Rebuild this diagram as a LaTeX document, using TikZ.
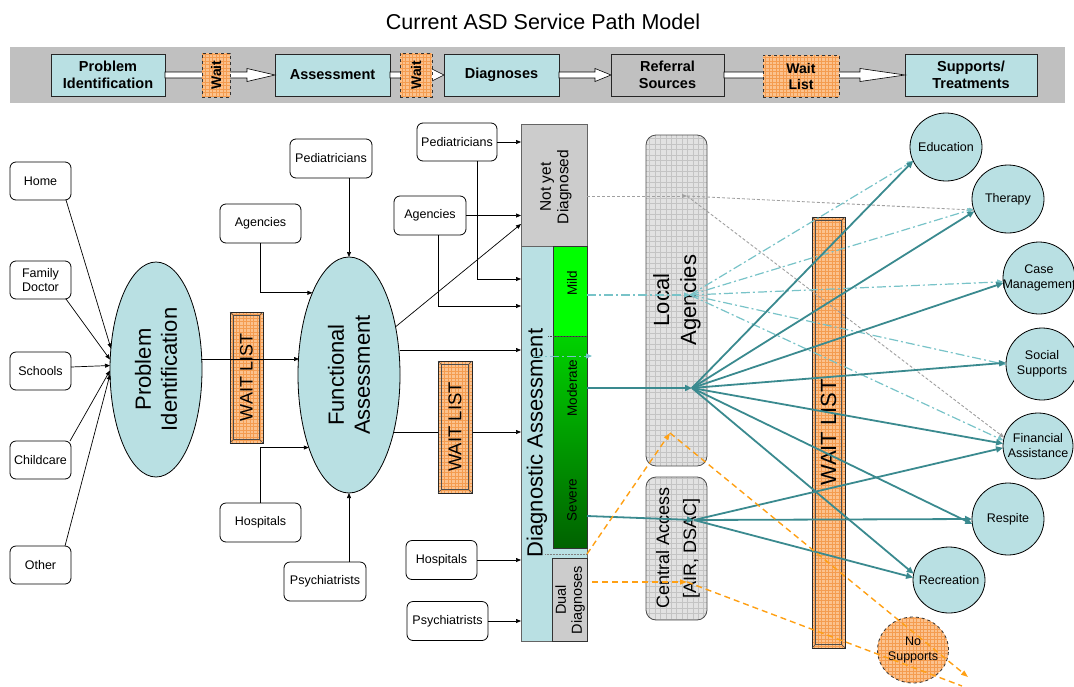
\documentclass[tikz,border=0pt]{standalone}
\usepackage{fontspec}
\setmainfont{Liberation Sans}
\usetikzlibrary{arrows.meta,calc,shapes.geometric}

\definecolor{lblue}{RGB}{185,224,227}
\definecolor{bangray}{RGB}{192,192,192}
\definecolor{boxgray}{RGB}{204,204,204}
\definecolor{colborder}{RGB}{100,100,100}
\definecolor{teal1}{RGB}{58,138,143}
\definecolor{teal2}{RGB}{120,195,200}
\definecolor{dgray}{RGB}{160,160,160}
\definecolor{orcol}{RGB}{255,160,20}
\definecolor{orfill}{RGB}{251,194,142}
\definecolor{orgrid}{RGB}{244,156,80}
\definecolor{lagray}{RGB}{226,226,226}
\definecolor{lagrid}{RGB}{196,196,196}
\definecolor{mildgreen}{RGB}{0,255,0}
\definecolor{modgreen}{RGB}{0,210,0}
\definecolor{sevgreen}{RGB}{0,98,0}

\newcommand{\fsz}[2]{\fontsize{#1}{#2}\selectfont}
% inner frame and corner bevels of a wait-list bar
\newcommand{\bevelframe}[1]{%
  \draw[bevel] ($(#1.north west)+(3.5,3.5)$) rectangle ($(#1.south east)+(-3.5,-3.5)$);
  \draw[bevel] (#1.north west) -- ++(3.5,3.5) (#1.north east) -- ++(-3.5,3.5)
               (#1.south west) -- ++(3.5,-3.5) (#1.south east) -- ++(-3.5,-3.5);}
% white block arrow between two banner boxes; #3 = head length
\newcommand{\bandarrow}[3]{%
  \draw[bandarr] ($(#1.east)+(0,-3)$) -- ($(#2.west)+(-#3,-3)$) -- ($(#2.west)+(-#3,-6.5)$)
    -- (#2.west) -- ($(#2.west)+(-#3,6.5)$) -- ($(#2.west)+(-#3,3)$) -- ($(#1.east)+(0,3)$) -- cycle;}

\tikzset{
  every node/.style={inner sep=0pt, outer sep=0pt},
  banbox/.style={draw=black!85, line width=0.8pt, fill=lblue, align=center,
    font=\bfseries\fsz{14.5}{17}, minimum height=42},
  bandarr/.style={fill=white, draw=black, line width=0.6pt},
  orgridfill/.style={fill=orfill, path picture={
    \draw[orgrid, solid, line width=0.3pt, step=3.5pt]
      (path picture bounding box.south west) grid (path picture bounding box.north east);}},
  lagridfill/.style={fill=lagray, path picture={
    \draw[lagrid, solid, line width=0.4pt, step=5.4pt]
      (path picture bounding box.south west) grid (path picture bounding box.north east);}},
  waitbox/.style={orgridfill, draw=black!80, dashed, line width=0.6pt},
  waitbar/.style={orgridfill, draw=black!85, line width=0.7pt},
  bevel/.style={draw=black!70, line width=0.5pt},
  srcbox/.style={draw=black, line width=0.8pt, rounded corners=6pt, fill=white, align=center,
    font=\fsz{12.5}{14.5}, minimum height=39},
  bigoval/.style={ellipse, draw=black, line width=0.8pt, fill=lblue},
  support/.style={ellipse, draw=black, line width=0.8pt, fill=lblue, minimum width=72,
    minimum height=68},
  suptext/.style={align=center, font=\fsz{12.5}{15}},
  vtext/.style={rotate=90, align=center},
  arr/.style={-{Triangle[length=5pt,width=4pt]}, line width=0.7pt},
  tealarr/.style={teal1, line width=1.8pt, -{Triangle[length=7pt,width=6pt]}},
  mildarr/.style={teal2, line width=1.2pt, dash pattern=on 9pt off 3pt on 2pt off 3pt,
    -{Triangle[length=6pt,width=5pt]}},
  grayarr/.style={dgray, line width=0.9pt, dash pattern=on 3pt off 2pt,
    -{Triangle[length=5pt,width=4pt]}},
  orarr/.style={orcol, line width=1.4pt, dash pattern=on 6pt off 4pt,
    -{Triangle[length=7pt,width=5pt]}},
  orpath/.style={orcol, line width=1.4pt, dash pattern=on 6pt off 4pt},
}

\begin{document}
\begin{tikzpicture}[x=1pt,y=-1pt]
\useasboundingbox (0,0) rectangle (1074,686);

% ---------- title and process banner ----------
\node[font=\fsz{21.5}{24}] (title) at (543,22) {Current ASD Service Path Model};
\node[fill=bangray, minimum width=1055, minimum height=56, anchor=north west] (banner) at (10,47) {};

\node[banbox, minimum width=114] (bpi) at (108,75) {Problem\\Identification};
\node[banbox, minimum width=115] (bas) at (332.5,75) {Assessment};
\node[banbox, minimum width=115] (bdi) at (501.5,75) {Diagnoses};
\node[banbox, fill=bangray, minimum width=113] (bre) at (667.5,75) {Referral\\Sources};
\node[banbox, minimum width=132] (bsu) at (971,75) {Supports/\\Treatments};

\bandarrow{bpi}{bas}{28}
\bandarrow{bas}{bdi}{13}
\bandarrow{bdi}{bre}{16}
\bandarrow{bre}{bsu}{45}

\node[waitbox, minimum width=28, minimum height=44] (bw1) at (216,75) {};
\node[vtext, font=\bfseries\fsz{14}{15}] (bw1t) at (bw1) {Wait};
\node[waitbox, minimum width=32, minimum height=44] (bw2) at (416,75) {};
\node[vtext, font=\bfseries\fsz{14}{15}] (bw2t) at (bw2) {Wait};
\node[waitbox, minimum width=76, minimum height=42, align=center,
      font=\bfseries\fsz{14}{16}] (bwl) at (801,76) {Wait\\List};

% ---------- problem identification sources ----------
\node[srcbox, minimum width=61, minimum height=38] (home) at (40.5,181) {Home};
\node[srcbox, minimum width=61, minimum height=38] (fd) at (40.5,280) {Family\\Doctor};
\node[srcbox, minimum width=61, minimum height=38] (schools) at (40.5,371) {Schools};
\node[srcbox, minimum width=61, minimum height=38] (childcare) at (40.5,460) {Childcare};
\node[srcbox, minimum width=61, minimum height=38] (other) at (40.5,565) {Other};

\node[bigoval, minimum width=92, minimum height=215] (pi) at (156,369.5) {};
\node[vtext, font=\fsz{22}{26}] (pit) at (pi) {Problem\\Identification};

\draw[arr] ($(home.south east)+(-5,0)$) -- ($(pi.west)+(1,-21)$);
\draw[arr] ($(fd.south east)+(-5,0)$) -- ($(pi.west)+(0,-10)$);
\draw[arr] ($(schools.east)+(0,-4)$) -- ($(pi.west)+(0,-4)$);
\draw[arr] ($(childcare.north east)+(-1,0)$) -- ($(pi.west)+(0,1)$);
\draw[arr] ($(other.north east)+(-6,0)$) -- ($(pi.west)+(0,5)$);

% ---------- functional assessment ----------
\node[srcbox, minimum width=82] (peds1) at (331,158.5) {Pediatricians};
\node[srcbox, minimum width=81] (ag1) at (260.5,223.5) {Agencies};
\node[srcbox, minimum width=81] (hosp1) at (260.5,522.5) {Hospitals};
\node[srcbox, minimum width=82] (psych1) at (325,581.5) {Psychiatrists};

\node[bigoval, minimum width=102, minimum height=236] (fa) at (349,375) {};
\node[vtext, font=\fsz{22}{26}] (fat) at (fa) {Functional\\Assessment};

\node[waitbar, minimum width=33, minimum height=131] (wl1) at (246.5,377.5) {};
\bevelframe{wl1}
\node[vtext, font=\fsz{18}{20}] (wl1t) at (wl1) {WAIT LIST};

\draw[arr] ($(pi.east)+(-1,-10.5)$) -- ($(fa.west)+(1,-16)$);
\draw[arr] (peds1.south -| fa.north) -- (fa.north);
\draw[arr] (ag1.south) |- (fa.114);
\draw[arr] (hosp1.north) |- (fa.241);
\draw[arr] (psych1.north -| fa.south) -- (fa.south);

% ---------- diagnostic assessment column ----------
\node[draw=colborder, line width=1pt, fill=boxgray, minimum width=66, minimum height=122,
      anchor=north west] (nyd) at (521,124) {};
\node[draw=colborder, line width=1pt, fill=lblue, minimum width=66, minimum height=395,
      anchor=north west] (da) at (521,246) {};
\node[draw=black!80, line width=0.8pt, fill=mildgreen, minimum width=34, minimum height=90,
      anchor=north west] (mild) at (553,246) {};
\node[draw=black!80, line width=0.8pt, top color=modgreen, bottom color=sevgreen,
      minimum width=34, minimum height=212, anchor=north west] (mod) at (553,336) {};
\node[draw=black!80, line width=0.8pt, fill=boxgray, minimum width=35, minimum height=83,
      anchor=north west] (dual) at (552,558) {};
\draw[black!70, densely dotted, line width=0.5pt] ($(mild.south west)+(-5,0)$) -- (mild.south east);
\draw[black!50, densely dotted, line width=0.5pt] ($(mod.south west)+(-8,6)$) -- ($(mod.south east)+(0,6)$);

\node[vtext, font=\fsz{15.5}{17.5}] (nydt) at (556,187) {Not yet\\Diagnosed};
\node[vtext, font=\fsz{22}{24}] (dat) at (537,443) {Diagnostic Assessment};
\node[vtext, font=\fsz{13.5}{15}] (mildt) at (572,283) {Mild};
\node[vtext, font=\fsz{13.5}{15}] (modt) at (572,388) {Moderate};
\node[vtext, font=\fsz{13.5}{15}] (sevt) at (572,500) {Severe};
\node[vtext, font=\fsz{14.5}{16}] (dualt) at (570,600) {Dual\\Diagnoses};

\node[srcbox, minimum width=80, minimum height=38] (peds2) at (457,142) {Pediatricians};
\node[srcbox, minimum width=72] (ag2) at (430,215.5) {Agencies};
\node[srcbox, minimum width=71] (hosp2) at (441.5,560) {Hospitals};
\node[srcbox, minimum width=81] (psych2) at (447.5,621) {Psychiatrists};

\draw[arr] (peds2.east) -- (peds2.east -| nyd.west);
\draw[arr] (ag2.east) -- (ag2.east -| nyd.west);
\draw[arr] ($(peds2.south)+(20,0)$) |- ($(da.north west)+(0,33)$);
\draw[arr] ($(ag2.south)+(8,0)$) |- ($(da.north west)+(0,60)$);
\draw[arr] (fa.46) -- ($(nyd.north west)+(0,100)$);
\draw[arr] ($(fa.east)+(0,-25)$) -- ($(da.north west)+(0,104)$);
\draw[arr] ($(fa.east)+(-6,57)$) -- ($(da.north west)+(0,186)$);
\draw[arr] (hosp2.east) -- (hosp2.east -| da.west);
\draw[arr] (psych2.east) -- (psych2.east -| da.west);

\node[waitbar, minimum width=34, minimum height=132] (wl2) at (455,427) {};
\bevelframe{wl2}
\node[vtext, font=\fsz{18.5}{20}] (wl2t) at (wl2) {WAIT LIST};

% ---------- referral sources ----------
\node[lagridfill, draw=black!70, line width=0.8pt, rounded corners=10pt, minimum width=61,
      minimum height=331, anchor=north west] (la) at (646,135) {};
\node[vtext, font=\fsz{22}{27}] (lat) at (677,300) {Local\\Agencies};
\node[lagridfill, draw=black!70, line width=0.8pt, rounded corners=10pt, minimum width=61,
      minimum height=143, anchor=north west] (ca) at (646,477) {};
\node[vtext, font=\fsz{18}{27}] (cat) at (678,548) {Central Access\\{[}AIR, DSAC{]}};

\node[waitbar, minimum width=33, minimum height=431] (wl3) at (828.5,432.5) {};
\bevelframe{wl3}
\node[vtext, font=\fsz{22}{24}] (wl3t) at (wl3) {WAIT LIST};

% ---------- supports and treatments ----------
\node[support] (edu) at (946,147) {};
\node[suptext] (edut) at (edu) {Education};
\node[support] (therapy) at (1008,199) {};
\node[suptext] (therapyt) at (therapy) {Therapy};
\node[support, minimum height=72] (cm) at (1039,278) {};
\node[suptext] (cmt) at (cm) {Case\\Management};
\node[support, minimum height=72] (social) at (1042,364) {};
\node[suptext] (socialt) at (social) {Social\\Supports};
\node[support, minimum width=70, minimum height=66] (fin) at (1038,446) {};
\node[suptext] (fint) at (fin) {Financial\\Assistance};
\node[support, minimum height=72] (respite) at (1008,519) {};
\node[suptext] (respitet) at (respite) {Respite};
\node[support, minimum height=66] (rec) at (949,580) {};
\node[suptext] (rect) at (rec) {Recreation};
\node[support, orgridfill, draw=black!80, dashed, minimum width=71, minimum height=66] (nosup) at (913,650) {};
\node[suptext] (nosupt) at (nosup) {No\\Supports};

% ---------- service routes ----------
\coordinate (hN) at (687,196);
\coordinate (hM) at (690,295);
\coordinate (hD) at (692,388);
\coordinate (hC) at (694,520);
\coordinate (hO1) at (670,433);
\coordinate (hO2) at (687,582);
\coordinate (oEnd1) at (968,677);
\coordinate (oEnd2) at (962,686);
\coordinate (dS) at (533,356);
\coordinate (dE) at (592,356);

% not yet diagnosed
\draw[grayarr] ($(nyd.east)+(0,11)$) -- (hN);
\draw[grayarr] (hN) -- (therapy.198);
\draw[grayarr] (hN) -- (fin.166);

% mild
\draw[mildarr, line width=0.9pt] (dS) -- (dE);
\draw[mildarr] ($(mild.east)+(0,4)$) -- (hM);
\draw[mildarr] (hM) -- (edu.203);
\draw[mildarr] (hM) -- (therapy.196);
\draw[mildarr] (hM) -- (cm.186);
\draw[mildarr] (hM) -- (social.181);
\draw[mildarr] (hM) -- (fin.171);

% moderate
\draw[tealarr] ($(mod.east)+(0,-54)$) -- (hD);
\draw[tealarr] (hD) -- (edu.203);
\draw[tealarr] (hD) -- (therapy.200);
\draw[tealarr] (hD) -- (cm.188);
\draw[tealarr] (hD) -- (social.178);
\draw[tealarr] (hD) -- (fin.176);
\draw[tealarr] (hD) -- (respite.188);
\draw[tealarr] (hD) -- (rec.170);

% severe
\draw[tealarr] ($(mod.east)+(0,74)$) -- (hC);
\draw[tealarr] (hC) -- (fin.183);
\draw[tealarr] (hC) -- (respite.180);
\draw[tealarr] (hC) -- (rec.176);

% dual diagnoses
\draw[orarr] ($(dual.north east)+(0,-4)$) -- (hO1);
\draw[orarr] (hO1) -- (oEnd1);
\draw[orarr] ($(dual.east)+(5,-17.5)$) -- (hO2);
\draw[orpath] (hO2) -- (oEnd2);
\end{tikzpicture}
\end{document}
